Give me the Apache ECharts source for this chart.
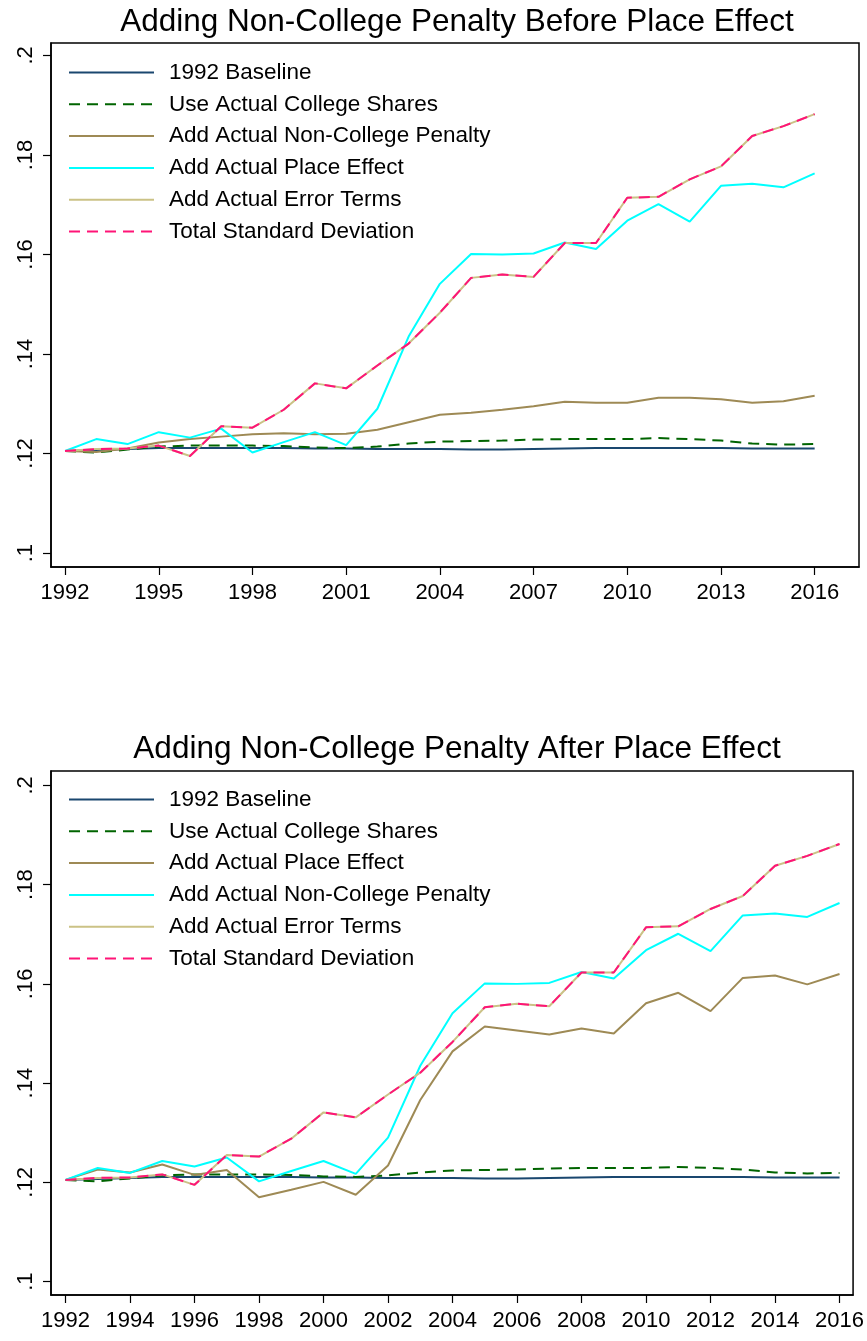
<!DOCTYPE html>
<html>
<head>
<meta charset="utf-8">
<script src="https://cdn.jsdelivr.net/npm/echarts@6/dist/echarts.min.js"></script>
<style>
  body { margin: 0; background: #fff; }
  #top, #bottom { width: 867px; position: absolute; left: 0; }
  #top { top: 0; height: 670px; }
  #bottom { top: 670px; height: 671px; }
</style>
</head>
<body>
<div id="top"></div>
<div id="bottom"></div>
<script>
var years = [1992, 1993, 1994, 1995, 1996, 1997, 1998, 1999, 2000, 2001, 2002, 2003, 2004,
  2005, 2006, 2007, 2008, 2009, 2010, 2011, 2012, 2013, 2014, 2015, 2016];

var baseline = [0.1205, 0.1207, 0.1209, 0.1211, 0.1211, 0.1211, 0.1211, 0.1211, 0.1210, 0.1210,
  0.1209, 0.1209, 0.1209, 0.1208, 0.1208, 0.1209, 0.1210, 0.1211, 0.1211, 0.1211, 0.1211, 0.1211,
  0.1210, 0.1210, 0.1210];
var collegeShares = [0.1205, 0.1202, 0.1208, 0.1214, 0.1216, 0.1216, 0.1216, 0.1215, 0.1212, 0.1211,
  0.1214, 0.1220, 0.1224, 0.1225, 0.1226, 0.1228, 0.1229, 0.1229, 0.1229, 0.1231, 0.1229, 0.1226,
  0.1220, 0.1218, 0.1219];
// penalty added alone (top chart)
var penaltyOnly = [0.1205, 0.1203, 0.1210, 0.1222, 0.1229, 0.1234, 0.1239, 0.1241, 0.1239, 0.1240,
  0.1248, 0.1263, 0.1278, 0.1282, 0.1288, 0.1295, 0.1304, 0.1302, 0.1302, 0.1312, 0.1312, 0.1309,
  0.1302, 0.1305, 0.1316];
// place effect added alone (bottom chart)
var placeOnly = [0.1205, 0.1226, 0.1220, 0.1236, 0.1215, 0.1225, 0.1170, 0.1185, 0.1201, 0.1175,
  0.1234, 0.1366, 0.1464, 0.1514, 0.1506, 0.1498, 0.1510, 0.1500, 0.1561, 0.1582, 0.1545, 0.1612,
  0.1617, 0.1599, 0.1620];
// penalty + place effect
var penaltyAndPlace = [0.1205, 0.1229, 0.1219, 0.1243, 0.1232, 0.1250, 0.1202, 0.1223, 0.1243, 0.1217,
  0.1290, 0.1435, 0.1541, 0.1601, 0.1600, 0.1602, 0.1624, 0.1611, 0.1668, 0.1701, 0.1666, 0.1738,
  0.1742, 0.1735, 0.1763];
var errorTerms = [0.1205, 0.1209, 0.1210, 0.1216, 0.1195, 0.1255, 0.1252, 0.1288, 0.1341, 0.1331,
  0.1377, 0.1421, 0.1483, 0.1553, 0.1560, 0.1555, 0.1623, 0.1623, 0.1714, 0.1716, 0.1751, 0.1777,
  0.1838, 0.1858, 0.1882];
var totalSD = errorTerms.slice();

var xTicksTop = [1992, 1995, 1998, 2001, 2004, 2007, 2010, 2013, 2016];
var xTicksBottom = [1992, 1994, 1996, 1998, 2000, 2002, 2004, 2006, 2008, 2010, 2012, 2014, 2016];
var yTicks = [0.1, 0.12, 0.14, 0.16, 0.18, 0.2];

var FONT = '"Liberation Sans", Arial, sans-serif';
var NAVY = '#1a476f', GREEN = '#006400', BROWN = '#9e8a55', CYAN = '#00ffff',
    KHAKI = '#cbc286', PINK = '#ff1477';

function pairs(vals) {
  return years.map(function (y, i) { return [y, vals[i]]; });
}

function line(name, vals, color, dashed) {
  return {
    name: name,
    type: 'line',
    symbol: 'none',
    data: pairs(vals),
    lineStyle: { color: color, width: 2, type: dashed ? [11, 7] : 'solid' },
    itemStyle: { color: color },
    emphasis: { disabled: true },
    animation: false
  };
}

function buildOption(cfg) {
  return {
    backgroundColor: '#fff',
    title: {
      text: cfg.title,
      left: 452, textAlign: 'center',
      top: cfg.titleTop,
      textStyle: { fontFamily: FONT, fontSize: 31.5, fontWeight: 'normal', color: '#000' }
    },
    legend: {
      orient: 'vertical',
      left: 68, top: cfg.legendTop,
      padding: 0,
      itemWidth: 85, itemHeight: 14, itemGap: 8.8,
      itemStyle: { color: 'rgba(0,0,0,0)', borderWidth: 0 },
      lineStyle: { width: 2 },
      textStyle: { fontFamily: FONT, fontSize: 22.5, color: '#000', lineHeight: 22, padding: [0, 0, 0, 10] },
      selectedMode: false
    },
    grid: {
      left: 51, right: 8, top: cfg.gridTop, height: 524,
      show: true, borderColor: '#000', borderWidth: 1.5, backgroundColor: '#fff'
    },
    xAxis: {
      type: 'value', min: 1991.55, max: cfg.xMax,
      axisLine: { lineStyle: { color: '#000', width: 1.5 } },
      axisTick: { customValues: cfg.xTicks, length: 8, lineStyle: { color: '#000', width: 1.2 } },
      axisLabel: {
        customValues: cfg.xTicks, margin: 15, fontFamily: FONT, fontSize: 22, color: '#000',
        formatter: function (v) { return String(v); }
      },
      splitLine: { show: false }
    },
    yAxis: {
      type: 'value', min: cfg.yMin, max: cfg.yMax,
      axisLine: { show: true, lineStyle: { color: '#000', width: 1.5 } },
      axisTick: { show: true, customValues: yTicks, length: 8, lineStyle: { color: '#000', width: 1.2 } },
      axisLabel: {
        customValues: yTicks, rotate: 90, margin: 14, fontFamily: FONT, fontSize: 22, color: '#000',
        formatter: function (v) { return String(Math.round(v * 100) / 100).replace('0.', '.'); }
      },
      splitLine: { show: false }
    },
    series: cfg.series
  };
}

var topChart = echarts.init(document.getElementById('top'));
topChart.setOption(buildOption({
  title: 'Adding Non-College Penalty Before Place Effect',
  titleTop: 1, legendTop: 61, gridTop: 43,
  xMax: 2017.42, xTicks: xTicksTop, yMin: 0.0972, yMax: 0.2025,
  series: [
    line('1992 Baseline', baseline, NAVY),
    line('Use Actual College Shares', collegeShares, GREEN, true),
    line('Add Actual Non-College Penalty', penaltyOnly, BROWN),
    line('Add Actual Place Effect', penaltyAndPlace, CYAN),
    line('Add Actual Error Terms', errorTerms, KHAKI),
    line('Total Standard Deviation', totalSD, PINK, true)
  ]
}));

var bottomChart = echarts.init(document.getElementById('bottom'));
bottomChart.setOption(buildOption({
  title: 'Adding Non-College Penalty After Place Effect',
  titleTop: 58, legendTop: 118, gridTop: 101,
  xMax: 2016.42, xTicks: xTicksBottom, yMin: 0.0973, yMax: 0.2029,
  series: [
    line('1992 Baseline', baseline, NAVY),
    line('Use Actual College Shares', collegeShares, GREEN, true),
    line('Add Actual Place Effect', placeOnly, BROWN),
    line('Add Actual Non-College Penalty', penaltyAndPlace, CYAN),
    line('Add Actual Error Terms', errorTerms, KHAKI),
    line('Total Standard Deviation', totalSD, PINK, true)
  ]
}));
</script>
</body>
</html>
